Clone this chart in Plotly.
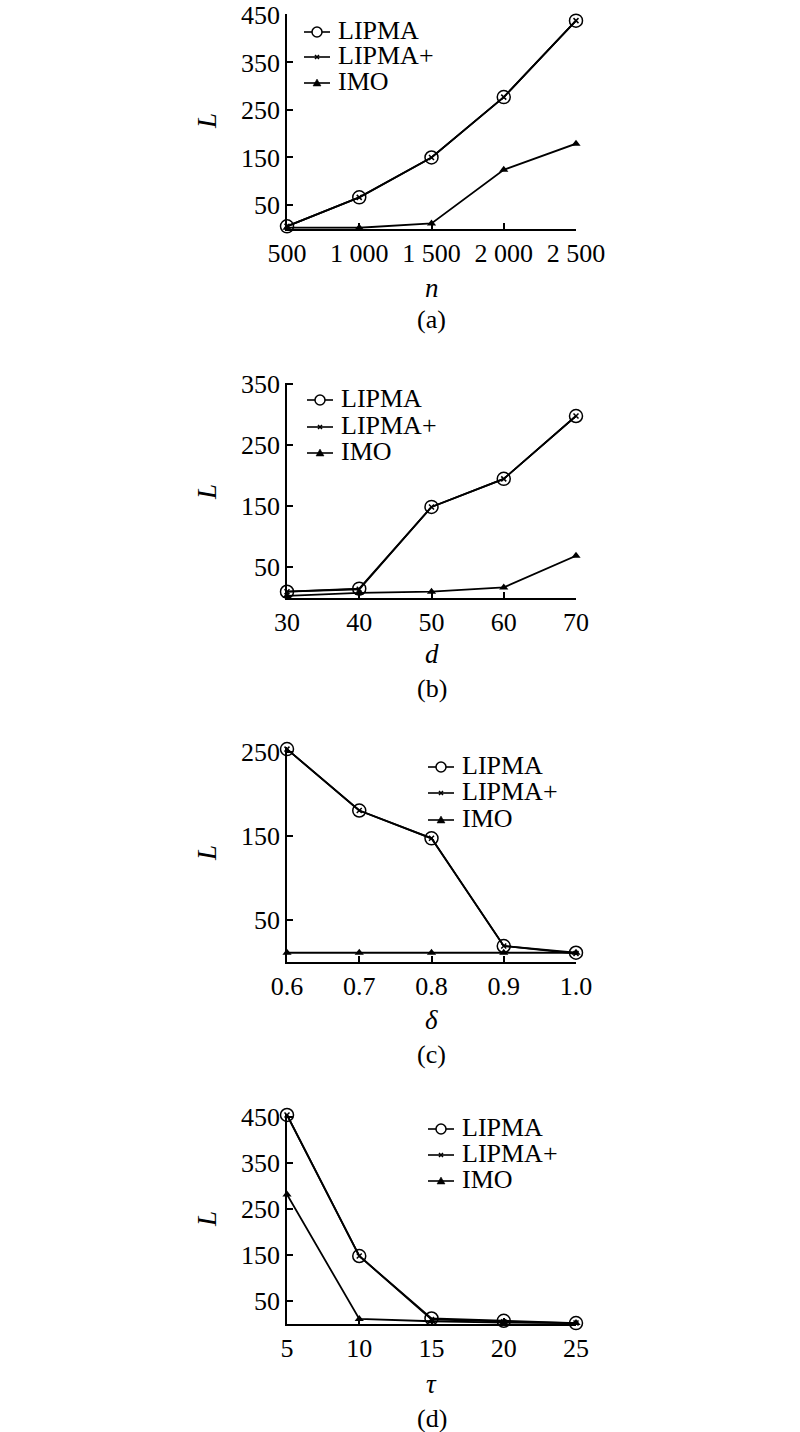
import plotly.graph_objects as go

W, H = 800, 1432

# ---------------- data ----------------
n_vals = [500, 1000, 1500, 2000, 2500]
n_labels = ["500", "1 000", "1 500", "2 000", "2 500"]
a_lipma = [5, 66, 150, 277, 438]
a_lipma_plus = [5, 66, 150, 277, 438]
a_imo = [2, 2, 11, 124, 179]

d_vals = [30, 40, 50, 60, 70]
d_labels = ["30", "40", "50", "60", "70"]
b_lipma = [10, 15, 149, 195, 298]
b_lipma_plus = [10, 14, 149, 195, 298]
b_imo = [3, 8, 10, 17, 69]

delta_vals = [0.6, 0.7, 0.8, 0.9, 1.0]
delta_labels = ["0.6", "0.7", "0.8", "0.9", "1.0"]
c_lipma = [253, 180, 147, 19, 11]
c_lipma_plus = [253, 180, 147, 19, 10]
c_imo = [11, 11, 11, 11, 11]

tau_vals = [5, 10, 15, 20, 25]
tau_labels = ["5", "10", "15", "20", "25"]
d_lipma = [455, 148, 12, 7, 2]
d_lipma_plus = [455, 148, 10, 5, 2]
d_imo = [282, 11, 6, 3, 2]

y_ticks_a = [50, 150, 250, 350, 450]
y_ticks_b = [50, 150, 250, 350]
y_ticks_c = [50, 150, 250]
y_ticks_d = [50, 150, 250, 350, 450]

series_names = ["LIPMA", "LIPMA+", "IMO"]
x_titles = ["<i>n</i>", "<i>d</i>", "<i>δ</i>", "<i>τ</i>"]
panel_labels = ["(a)", "(b)", "(c)", "(d)"]

# ---------------- layout helpers ----------------
FONT = "Liberation Serif"
def py(p):
    return 1 - p / H
def pxx(p):
    return p / W

X_LEFT, X_RIGHT = 287, 576
panels = [
    dict(x=n_vals, xl=n_labels, ys=[a_lipma, a_lipma_plus, a_imo], yr=[0, 452], yt=y_ticks_a,
         top=14.0, bot=228.7, xtitle_y=288, lab_y=319, ltitle_y=121,
         leg_x=317, leg_rows=[32, 57, 83]),
    dict(x=d_vals, xl=d_labels, ys=[b_lipma, b_lipma_plus, b_imo], yr=[0, 352], yt=y_ticks_b,
         top=383.1, bot=597.8, xtitle_y=654, lab_y=688, ltitle_y=492,
         leg_x=320, leg_rows=[400, 427, 453]),
    dict(x=delta_vals, xl=delta_labels, ys=[c_lipma, c_lipma_plus, c_imo], yr=[0, 256], yt=y_ticks_c,
         top=746.6, bot=962, xtitle_y=1020, lab_y=1054, ltitle_y=853,
         leg_x=441, leg_rows=[767, 793, 820]),
    dict(x=tau_vals, xl=tau_labels, ys=[d_lipma, d_lipma_plus, d_imo], yr=[0, 458], yt=y_ticks_d,
         top=1113.6, bot=1324, xtitle_y=1384, lab_y=1418, ltitle_y=1219,
         leg_x=441, leg_rows=[1129, 1155, 1181]),
]

marker_styles = [
    dict(symbol="circle-open", size=13, color="black", line=dict(width=1.5, color="black")),
    dict(symbol="x-thin", size=5, color="black", line=dict(width=1.5, color="black")),
    dict(symbol="triangle-up", size=8, color="black", line=dict(width=0, color="black")),
]

fig = go.Figure()
layout = dict(template="none", width=W, height=H, margin=dict(l=0, r=0, t=0, b=0, pad=0),
              paper_bgcolor="white", plot_bgcolor="white", showlegend=False,
              font=dict(family=FONT, color="black"))
annotations = []
shapes = []

for i, p in enumerate(panels):
    k = "" if i == 0 else str(i + 1)
    xa, ya = "x" + k, "y" + k
    for j, name in enumerate(series_names):
        fig.add_trace(go.Scatter(
            x=p["x"], y=p["ys"][j], name=name, mode="lines+markers",
            line=dict(color="black", width=1.8), marker=marker_styles[j],
            cliponaxis=False, xaxis=xa, yaxis=ya, showlegend=False))
    layout["xaxis" + k] = dict(
        domain=[pxx(X_LEFT), pxx(X_RIGHT)], anchor=ya, range=[p["x"][0], p["x"][-1]],
        tickmode="array", tickvals=p["x"], ticktext=p["xl"], automargin=False,
        showline=True, linecolor="black", linewidth=1.5, ticks="inside", ticklen=6,
        tickwidth=1.5, tickcolor="black", showgrid=False, zeroline=False,
        tickfont=dict(family=FONT, size=26, color="black"))
    layout["yaxis" + k] = dict(
        domain=[py(p["bot"]), py(p["top"])], anchor=xa, range=p["yr"],
        tickmode="array", tickvals=p["yt"], automargin=False,
        showline=True, linecolor="black", linewidth=1.5, ticks="inside", ticklen=6,
        tickwidth=1.5, tickcolor="black", showgrid=False, zeroline=False,
        tickfont=dict(family=FONT, size=26, color="black"))
    cx = pxx((X_LEFT + X_RIGHT) / 2)
    annotations.append(dict(text="<i>L</i>", xref="paper", yref="paper", x=pxx(207), y=py(p["ltitle_y"]),
                            xanchor="center", yanchor="middle",
                            textangle=-90, showarrow=False, font=dict(family=FONT, size=27)))
    annotations.append(dict(text=x_titles[i], xref="paper", yref="paper", x=cx, y=py(p["xtitle_y"]),
                            xanchor="center", yanchor="middle",
                            showarrow=False, font=dict(family=FONT, size=27)))
    annotations.append(dict(text=panel_labels[i], xref="paper", yref="paper", x=cx, y=py(p["lab_y"]),
                            xanchor="center", yanchor="middle",
                            showarrow=False, font=dict(family=FONT, size=26)))
    # legend (drawn as real text plus glyph shapes)
    for j, name in enumerate(series_names):
        yy = py(p["leg_rows"][j])
        xx = pxx(p["leg_x"])
        base = dict(xref="paper", yref="paper", xsizemode="pixel", ysizemode="pixel",
                    xanchor=xx, yanchor=yy)
        shapes.append(dict(base, type="line", x0=-13, x1=13, y0=0, y1=0,
                           line=dict(color="black", width=1.6)))
        if j == 0:
            shapes.append(dict(base, type="circle", x0=-5, x1=5, y0=-5, y1=5,
                               fillcolor="white", line=dict(color="black", width=1.5)))
        elif j == 1:
            shapes.append(dict(base, type="path", path="M -2,-2 L 2,2 M -2,2 L 2,-2",
                               line=dict(color="black", width=1.5)))
        else:
            shapes.append(dict(base, type="path", path="M -4,-3 L 4,-3 L 0,4 Z",
                               fillcolor="black", line=dict(color="black", width=0.5)))
        annotations.append(dict(text=name, xref="paper", yref="paper",
                                x=pxx(p["leg_x"] + 19), y=py(p["leg_rows"][j] - 1.5),
                                xanchor="left", yanchor="middle", showarrow=False,
                                font=dict(family=FONT, size=26)))

layout["annotations"] = annotations
layout["shapes"] = shapes
fig.update_layout(**layout)
fig.write_html("out.html", config={"displayModeBar": False},
               post_script="document.body.style.margin='0px';")
